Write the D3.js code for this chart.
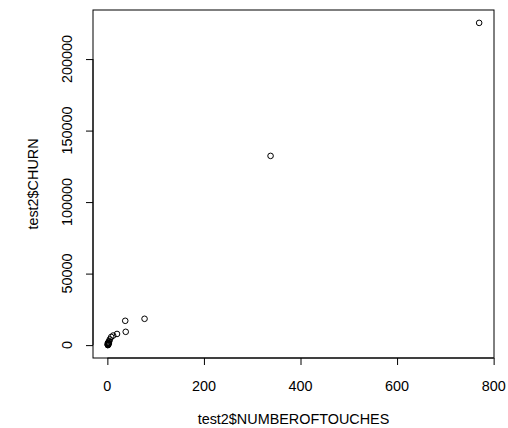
<!DOCTYPE html>
<html>
<head>
<meta charset="utf-8">
<script src="https://cdn.jsdelivr.net/npm/d3@7"></script>
<style>
  body { margin: 0; background: #fff; }
  text { font-family: "Liberation Sans", Arial, sans-serif; font-size: 14.4px; fill: #000; }
</style>
</head>
<body>
<svg id="chart" width="508" height="428"></svg>
<script>
// values (NUMBEROFTOUCHES vs CHURN)
var touches = [770, 338, 77, 37, 38, 20, 12, 8, 5, 4, 3, 3, 2, 2, 2, 1, 1, 1, 1, 1];
var churn = [225300, 132300, 18400, 17000, 9300, 7800, 6700, 5700, 4000, 2800, 2200, 1300, 1600, 700, 300, 900, 400, 100, 0, 1500];
var xTicks = [0, 200, 400, 600, 800];
var yTicks = [0, 50000, 100000, 150000, 200000];

(function () {
    var svg = d3.select("#chart");
    // plot region (window.top is reserved, so keep these local)
    var pl = 93, pr = 494, pt = 10, pb = 358;

    // R style 4% padding on the data range
    var pad = function (ext) {
        var d = (ext[1] - ext[0]) * 0.04;
        return [ext[0] - d, ext[1] + d];
    };

    var x = d3.scaleLinear().domain(pad(d3.extent(touches))).range([pl, pr]);
    var y = d3.scaleLinear().domain(pad(d3.extent(churn))).range([pb, pt]);

    var pts = touches.map(function (t, i) { return { x: t, y: churn[i] }; });

    // x axis
    var gx = svg.append("g").attr("transform", "translate(0," + pb + ")")
        .call(d3.axisBottom(x).tickValues(xTicks).tickSize(7).tickFormat(""));
    gx.select(".domain").remove();
    gx.selectAll("line").attr("stroke", "#000");
    gx.append("line")
        .attr("x1", x(xTicks[0])).attr("x2", x(xTicks[xTicks.length - 1]))
        .attr("stroke", "#000");
    svg.selectAll(".xlab").data(xTicks).enter().append("text")
        .attr("x", function (d) { return x(d); })
        .attr("y", 391)
        .attr("text-anchor", "middle")
        .text(function (d) { return d; });

    // y axis
    var gy = svg.append("g").attr("transform", "translate(" + pl + ",0)")
        .call(d3.axisLeft(y).tickValues(yTicks).tickSize(7).tickFormat(""));
    gy.select(".domain").remove();
    gy.selectAll("line").attr("stroke", "#000");
    gy.append("line")
        .attr("y1", y(yTicks[0])).attr("y2", y(yTicks[yTicks.length - 1]))
        .attr("stroke", "#000");
    svg.selectAll(".ylab").data(yTicks).enter().append("text")
        .attr("transform", function (d) { return "translate(72," + y(d) + ") rotate(-90)"; })
        .attr("text-anchor", "middle")
        .text(function (d) { return d; });

    // box
    svg.append("rect")
        .attr("x", pl).attr("y", pt)
        .attr("width", pr - pl).attr("height", pb - pt)
        .attr("fill", "none").attr("stroke", "#000");

    // points
    svg.append("g").selectAll("circle").data(pts).enter().append("circle")
        .attr("cx", function (d) { return x(d.x); })
        .attr("cy", function (d) { return y(d.y); })
        .attr("r", 2.8)
        .attr("fill", "none")
        .attr("stroke", "#000")
        .attr("stroke-width", 1);

    // titles
    svg.append("text")
        .attr("x", (pl + pr) / 2).attr("y", 424)
        .attr("text-anchor", "middle")
        .text("test2$NUMBEROFTOUCHES");
    svg.append("text")
        .attr("transform", "translate(38," + (pt + pb) / 2 + ") rotate(-90)")
        .attr("text-anchor", "middle")
        .text("test2$CHURN");
})();
</script>
</body>
</html>
